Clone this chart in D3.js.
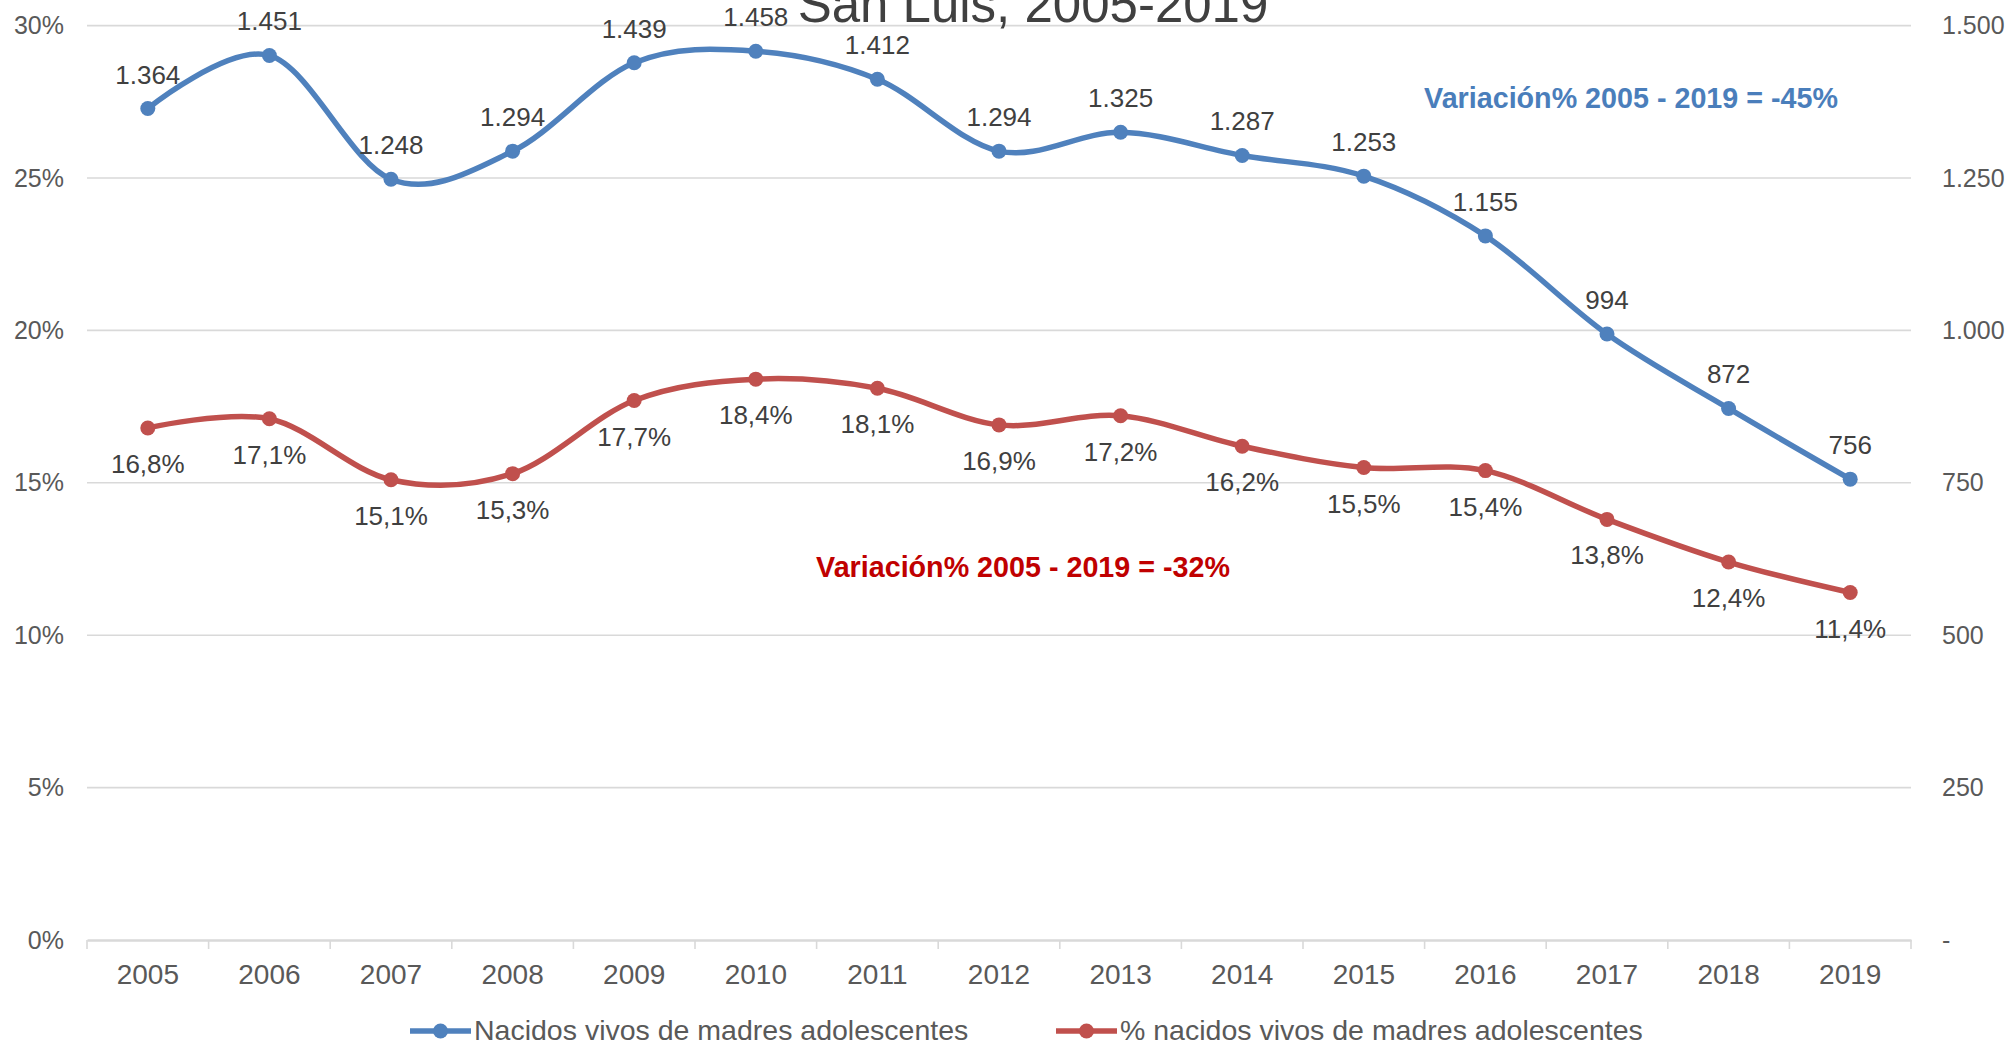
<!DOCTYPE html>
<html>
<head>
<meta charset="utf-8">
<script src="https://cdn.jsdelivr.net/npm/d3@7"></script>
<style>
  html, body { margin: 0; padding: 0; background: #fff; }
  svg { display: block; font-family: "Liberation Sans", Arial, sans-serif; }
</style>
</head>
<body>
<svg id="chart" width="2008" height="1046"></svg>
<script>
// Years on the category axis
const years = ["2005","2006","2007","2008","2009","2010","2011","2012","2013","2014","2015","2016","2017","2018","2019"];
// Live births to adolescent mothers (right axis)
const births = [1364, 1451, 1248, 1294, 1439, 1458, 1412, 1294, 1325, 1287, 1253, 1155, 994, 872, 756];
// Share of live births to adolescent mothers, % (left axis)
const share = [16.8, 17.1, 15.1, 15.3, 17.7, 18.4, 18.1, 16.9, 17.2, 16.2, 15.5, 15.4, 13.8, 12.4, 11.4];
// Axis ticks
const leftTicks = [0, 5, 10, 15, 20, 25, 30];
const rightTicks = [0, 250, 500, 750, 1000, 1250, 1500];
const seriesNames = ["Nacidos vivos de madres adolescentes", "% nacidos vivos de madres adolescentes"];
const titleText = "San Luis, 2005-2019";
const noteBlue = "Variación% 2005 - 2019 = -45%";
const noteRed = "Variación% 2005 - 2019 = -32%";

const BLUE = "#4F81BD", RED = "#C0504D";
const svg = d3.select("#chart");

const plotLeft = 87, plotRight = 1911, plotTop = 25.6, plotBottom = 940;

const x = d3.scaleBand().domain(years).range([plotLeft, plotRight]);
const yL = d3.scaleLinear().domain([0, 30]).range([plotBottom, plotTop]);
const yR = d3.scaleLinear().domain([0, 1500]).range([plotBottom, plotTop]);
const cx = d => x(d) + x.bandwidth() / 2;

const fmtThousands = v => v === 0 ? "-" : d3.format(",")(v).replace(/,/g, ".");
const fmtPct = v => d3.format(".1f")(v).replace(".", ",") + "%";

// Gridlines
svg.append("g").selectAll("line")
  .data(leftTicks.filter(t => t > 0))
  .join("line")
  .attr("x1", plotLeft).attr("x2", plotRight)
  .attr("y1", d => yL(d)).attr("y2", d => yL(d))
  .attr("stroke", "#D9D9D9").attr("stroke-width", 1.6);

// Category axis
const xAxis = svg.append("g").attr("transform", `translate(0,${plotBottom})`)
  .call(d3.axisBottom(x).tickSize(0).tickPadding(24));
xAxis.select(".domain").attr("stroke", "#D9D9D9").attr("stroke-width", 2.4);
xAxis.selectAll("text").attr("font-size", 28).attr("fill", "#595959")
  .attr("font-family", "Liberation Sans, Arial, sans-serif");
// Tick marks at category boundaries
svg.append("g").selectAll("line")
  .data(d3.range(years.length + 1))
  .join("line")
  .attr("x1", i => plotLeft + i * x.bandwidth()).attr("x2", i => plotLeft + i * x.bandwidth())
  .attr("y1", plotBottom).attr("y2", plotBottom + 9)
  .attr("stroke", "#D9D9D9").attr("stroke-width", 1.6);

// Left axis labels
const yAxisL = svg.append("g").attr("transform", `translate(${plotLeft},0)`)
  .call(d3.axisLeft(yL).tickValues(leftTicks).tickSize(0).tickPadding(23).tickFormat(d => d + "%"));
yAxisL.select(".domain").remove();
yAxisL.selectAll("text").attr("font-size", 25).attr("fill", "#595959")
  .attr("font-family", "Liberation Sans, Arial, sans-serif");

// Right axis labels
const yAxisR = svg.append("g").attr("transform", `translate(${plotRight},0)`)
  .call(d3.axisRight(yR).tickValues(rightTicks).tickSize(0).tickPadding(31).tickFormat(fmtThousands));
yAxisR.select(".domain").remove();
yAxisR.selectAll("text").attr("font-size", 25).attr("fill", "#595959")
  .attr("font-family", "Liberation Sans, Arial, sans-serif");

// Title (visible line)
svg.append("text").attr("x", 1033).attr("y", 22).attr("text-anchor", "middle")
  .attr("font-size", 51).attr("fill", "#404040").text(titleText);

const curve = d3.curveCardinal.tension(0);

function drawSeries(values, yScale, color, fmt, above) {
  const line = d3.line().x((d, i) => cx(years[i])).y(d => yScale(d)).curve(curve);
  svg.append("path").datum(values).attr("d", line)
    .attr("fill", "none").attr("stroke", color).attr("stroke-width", 5.5)
    .attr("stroke-linecap", "round");
  svg.append("g").selectAll("circle").data(values).join("circle")
    .attr("cx", (d, i) => cx(years[i])).attr("cy", d => yScale(d)).attr("r", 7.5)
    .attr("fill", color);
  svg.append("g").selectAll("text").data(values).join("text")
    .attr("x", (d, i) => cx(years[i]))
    .attr("y", d => yScale(d) + (above ? -25 : 45))
    .attr("text-anchor", "middle").attr("font-size", 26).attr("fill", "#404040")
    .text(fmt);
}

drawSeries(births, yR, BLUE, fmtThousands, true);
drawSeries(share, yL, RED, fmtPct, false);

// Annotations
svg.append("text").attr("x", 1631).attr("y", 108).attr("text-anchor", "middle")
  .attr("font-size", 28.7).attr("font-weight", "bold").attr("fill", "#4A7EBB").text(noteBlue);
svg.append("text").attr("x", 1023).attr("y", 577).attr("text-anchor", "middle")
  .attr("font-size", 28.7).attr("font-weight", "bold").attr("fill", "#C00000").text(noteRed);

// Legend
const legend = svg.append("g");
const legendItems = [
  { name: seriesNames[0], color: BLUE, x0: 410 },
  { name: seriesNames[1], color: RED, x0: 1056 }
];
const ly = 1031;
legendItems.forEach(it => {
  legend.append("line").attr("x1", it.x0).attr("x2", it.x0 + 61).attr("y1", ly).attr("y2", ly)
    .attr("stroke", it.color).attr("stroke-width", 5.5);
  legend.append("circle").attr("cx", it.x0 + 30.5).attr("cy", ly).attr("r", 7.5).attr("fill", it.color);
  legend.append("text").attr("x", it.x0 + 64).attr("y", ly + 9).attr("font-size", 28.5)
    .attr("fill", "#595959").text(it.name);
});
</script>
</body>
</html>
